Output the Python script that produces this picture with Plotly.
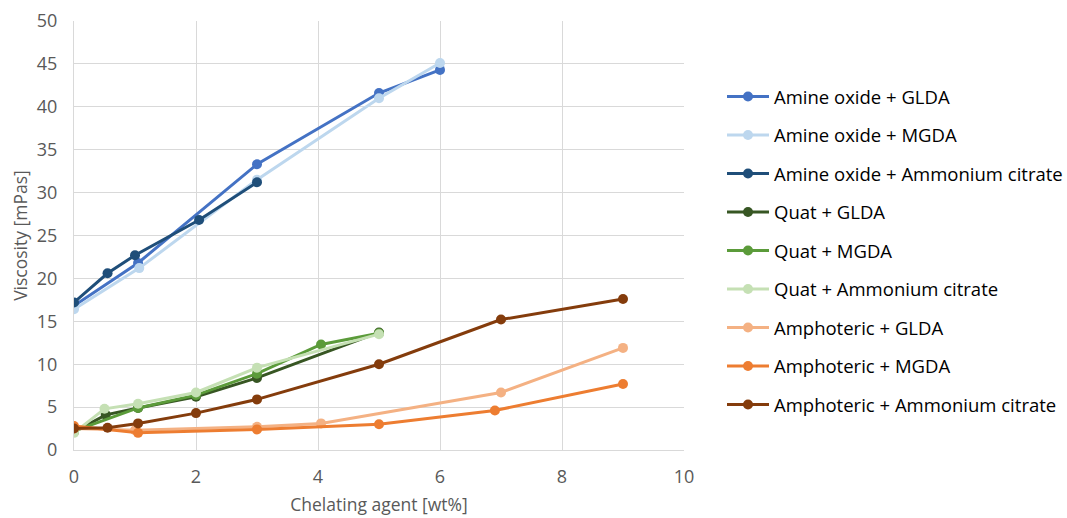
import plotly.graph_objects as go

# Viscosity vs. chelating agent concentration for three surfactant types
ao_glda_x = [0, 1.05, 3, 5, 6]
ao_glda_y = [16.8, 21.8, 33.3, 41.6, 44.3]

ao_mgda_x = [0, 1.07, 3, 5, 6]
ao_mgda_y = [16.4, 21.2, 31.5, 41.0, 45.1]

ao_cit_x = [0, 0.55, 1, 2.05, 3]
ao_cit_y = [17.2, 20.6, 22.7, 26.8, 31.2]

q_glda_x = [0, 0.52, 1.05, 2, 3, 5]
q_glda_y = [2.1, 4.1, 4.9, 6.2, 8.4, 13.7]

q_mgda_x = [0, 1.05, 2, 3, 4.05, 5]
q_mgda_y = [2.2, 4.9, 6.4, 8.9, 12.3, 13.6]

q_cit_x = [0, 0.5, 1.05, 2, 3, 5]
q_cit_y = [2.0, 4.8, 5.4, 6.7, 9.6, 13.5]

am_glda_x = [0, 1, 3, 4.05, 7, 9]
am_glda_y = [2.5, 2.3, 2.7, 3.1, 6.7, 11.9]

am_mgda_x = [0, 1.05, 3, 5, 6.9, 9]
am_mgda_y = [2.8, 2.0, 2.4, 3.0, 4.6, 7.7]

am_cit_x = [0, 0.55, 1.05, 2, 3, 5, 7, 9]
am_cit_y = [2.5, 2.6, 3.1, 4.3, 5.9, 10.0, 15.2, 17.6]

series = [
    ("Amine oxide + GLDA", ao_glda_x, ao_glda_y, "#4472C4"),
    ("Amine oxide + MGDA", ao_mgda_x, ao_mgda_y, "#BDD7EE"),
    ("Amine oxide + Ammonium citrate", ao_cit_x, ao_cit_y, "#1F4E79"),
    ("Quat + GLDA", q_glda_x, q_glda_y, "#375623"),
    ("Quat + MGDA", q_mgda_x, q_mgda_y, "#5B9B3A"),
    ("Quat + Ammonium citrate", q_cit_x, q_cit_y, "#C5E0B4"),
    ("Amphoteric + GLDA", am_glda_x, am_glda_y, "#F4B183"),
    ("Amphoteric + MGDA", am_mgda_x, am_mgda_y, "#ED7D31"),
    ("Amphoteric + Ammonium citrate", am_cit_x, am_cit_y, "#843C0C"),
]

W, H = 1067, 518
M_L, M_R, M_T, M_B = 74, 383, 21, 68
plot_w = W - M_L - M_R
plot_h = H - M_T - M_B

# one single-entry legend per series so the rows can be spaced out evenly
legend_left_px = 722
legend_top_px = 97
legend_step_px = 38.5

font_fam = "Open Sans, Liberation Sans, sans-serif"

fig = go.Figure()
layout_legends = {}
for i, (name, xs, ys, col) in enumerate(series):
    key = "legend" if i == 0 else f"legend{i + 1}"
    fig.add_trace(go.Scatter(
        x=xs, y=ys, name=name, mode="lines+markers",
        line=dict(color=col, width=3),
        marker=dict(color=col, size=10),
        legend=key,
    ))
    cy = legend_top_px + i * legend_step_px
    layout_legends[key] = dict(
        x=(legend_left_px - M_L) / plot_w,
        y=(H - M_B - cy) / plot_h,
        xanchor="left", yanchor="middle",
        font=dict(size=18.5, color="#000000", family=font_fam),
        itemwidth=42, bgcolor="rgba(0,0,0,0)",
    )

fig.update_layout(
    width=W, height=H,
    margin=dict(l=M_L, r=M_R, t=M_T, b=M_B, autoexpand=False),
    paper_bgcolor="white", plot_bgcolor="white",
    font=dict(family=font_fam, color="#595959", size=18),
    showlegend=True,
    xaxis=dict(
        range=[0, 10], dtick=2, showgrid=True, gridcolor="#D9D9D9", gridwidth=1,
        zeroline=False, showline=True, linecolor="#D9D9D9", ticks="",
        ticklabelstandoff=10,
        title=dict(text="Chelating agent [wt%]", font=dict(size=17.5), standoff=12),
        tickfont=dict(size=18),
    ),
    yaxis=dict(
        range=[0, 50], dtick=5, showgrid=True, gridcolor="#D9D9D9", gridwidth=1,
        zeroline=False, showline=True, linecolor="#D9D9D9", ticks="",
        ticklabelstandoff=12,
        title=dict(text="Viscosity [mPas]", font=dict(size=17.5), standoff=4),
        tickfont=dict(size=18),
    ),
    **layout_legends,
)

fig.write_html("out.html")
